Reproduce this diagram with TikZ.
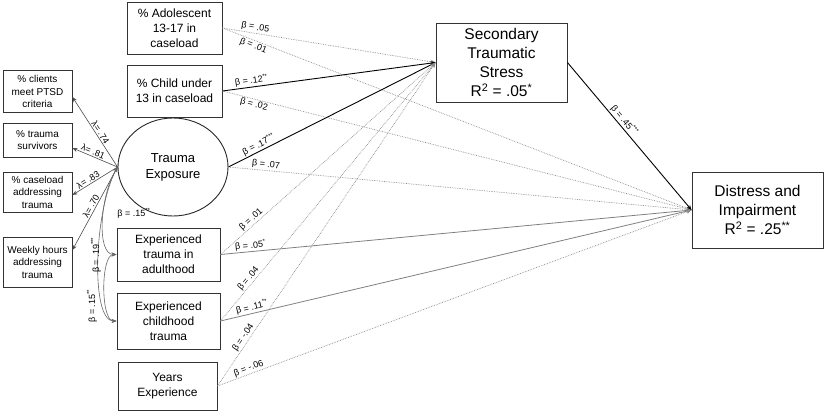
\documentclass[tikz,border=0pt]{standalone}
\usepackage{fontspec}
\setmainfont{Liberation Sans}
\usetikzlibrary{arrows.meta,shapes.geometric}
\begin{document}
\begin{tikzpicture}[x=1pt,y=-1pt,
  box/.style={draw=black!80, line width=0.9pt, align=center, inner sep=0pt, fill=white},
  smallbox/.style={box, minimum width=69pt, font=\fontsize{10}{12.5}\selectfont},
  midbox/.style={box, font=\fontsize{12}{15}\selectfont},
  bigbox/.style={box, minimum width=131pt, font=\fontsize{15.5}{19}\selectfont},
  tip/.style={-{Stealth[length=5pt,width=4pt]}},
  dottedpath/.style={tip, draw=black!45, densely dotted, line width=0.7pt},
  solidpath/.style={tip, draw=black, line width=0.9pt},
  graypath/.style={tip, draw=black!50, line width=0.8pt},
  loadpath/.style={tip, draw=black!70, line width=0.6pt},
  covpath/.style={{Stealth[length=5pt,width=4pt]}-{Stealth[length=5pt,width=4pt]}, draw=black!60, line width=0.6pt},
  lab/.style={font=\fontsize{9}{10}\selectfont, inner sep=1pt, sloped}
]
\useasboundingbox (0,0) rectangle (825,413);

% indicator boxes
\node[smallbox, minimum height=42pt] (clients) at (37.5,91.5) {\% clients\\meet PTSD\\criteria};
\node[smallbox, minimum height=34pt] (surv) at (37.5,140) {\% trauma\\survivors};
\node[smallbox, minimum height=40pt] (case) at (37.5,192) {\% caseload\\addressing\\trauma};
\node[smallbox, minimum height=50pt] (weekly) at (37.5,262) {Weekly hours\\addressing\\trauma};

% predictors
\node[midbox, minimum width=95pt, minimum height=52pt] (adol) at (174.5,28) {\% Adolescent\\13-17 in\\caseload};
\node[midbox, minimum width=95pt, minimum height=52pt] (child) at (174.5,91) {\% Child under\\13 in caseload};
\node[draw=black!85, line width=0.9pt, ellipse, minimum width=110pt, minimum height=98pt, inner sep=0pt, align=center, font=\fontsize{13}{16}\selectfont] (te) at (173,167) {Trauma\\Exposure};
\node[midbox, minimum width=103pt, minimum height=53pt] (adult) at (168.5,254.5) {Experienced\\trauma in\\adulthood};
\node[midbox, minimum width=103pt, minimum height=56pt] (childh) at (168.5,321) {Experienced\\childhood\\trauma};
\node[midbox, minimum width=99pt, minimum height=48pt] (years) at (167.5,386) {Years\\Experience};

% outcomes
\node[bigbox, minimum height=79pt] (sts) at (501.5,62.5) {Secondary\\Traumatic\\Stress\\R\textsuperscript{2} = .05\textsuperscript{*}};
\node[bigbox, minimum height=76pt] (di) at (757.5,210) {Distress and\\Impairment\\R\textsuperscript{2} = .25\textsuperscript{**}};

% loadings
\draw[loadpath] (te.west) -- node[lab, above, pos=0.46] {λ= .74} ([yshift=-5.5pt]clients.east);
\draw[loadpath] (te.west) -- node[lab, above, pos=0.58] {λ= .81} ([yshift=-8pt]surv.east);
\draw[loadpath] (te.west) -- node[lab, above, pos=0.6] {λ= .83} ([yshift=-3pt]case.east);
\draw[loadpath] (te.west) -- node[lab, above, pos=0.5] {λ= .70} ([yshift=12pt]weekly.east);

% covariances
\draw[covpath] (te.west) .. controls ([xshift=-18pt,yshift=-30pt]te.west) and ([xshift=-20pt]adult.west) .. (adult.west);
\draw[covpath] (te.west) .. controls ([xshift=-24pt,yshift=-45pt]te.west) and ([xshift=-26pt]childh.west) .. (childh.west);
\draw[covpath] (adult.west) .. controls ([xshift=-16pt]adult.west) and ([xshift=-16pt]childh.west) .. (childh.west);
\node[font=\fontsize{9}{10}\selectfont] (c1) at (134,213) {β = .15\textsuperscript{**}};
\node[font=\fontsize{9}{10}\selectfont, rotate=90] (c2) at (96,255) {β = .19\textsuperscript{***}};
\node[font=\fontsize{9}{10}\selectfont, rotate=90] (c3) at (92,306) {β = .15\textsuperscript{**}};

% paths to STS and D&I
\draw[dottedpath] (adol.east) -- node[lab, above, pos=0.15] {β = .05} (sts.west);
\draw[dottedpath] (adol.east) -- node[lab, below, pos=0.07] {β = .01} (di.west);
\draw[solidpath] (child.east) -- node[lab, above, pos=0.14] {β = .12\textsuperscript{**}} (sts.west);
\draw[dottedpath] (child.east) -- node[lab, below, pos=0.07] {β = .02} (di.west);
\draw[solidpath] (te.east) -- node[lab, above, pos=0.16] {β = .17\textsuperscript{***}} (sts.west);
\draw[dottedpath] (te.east) -- node[lab, above, pos=0.08] {β = .07} (di.west);
\draw[dottedpath] (adult.east) -- node[lab, above, pos=0.16] {β = .01} (sts.west);
\draw[graypath] (adult.east) -- node[lab, above, pos=0.065] {β = .05\textsuperscript{*}} (di.west);
\draw[dottedpath] (childh.east) -- node[lab, above, pos=0.15] {β = .04} (sts.west);
\draw[graypath] (childh.east) -- node[lab, above, pos=0.07] {β = .11\textsuperscript{**}} (di.west);
\draw[dottedpath] (years.east) -- node[lab, above, pos=0.14] {β = -.04} (sts.west);
\draw[dottedpath] (years.east) -- node[lab, above, pos=0.07] {β = -.06} (di.west);
\draw[solidpath] (sts.east) -- node[lab, above, pos=0.42] {β = .45\textsuperscript{***}} (di.west);
\end{tikzpicture}
\end{document}
